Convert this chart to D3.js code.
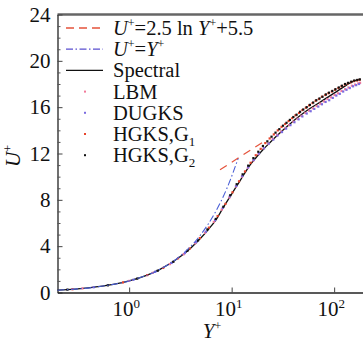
<!DOCTYPE html>
<html>
<head>
<meta charset="utf-8">
<script src="https://cdn.jsdelivr.net/npm/d3@7"></script>
<style>
  body { margin: 0; background: #fff; }
  svg { display: block; font-family: "Liberation Serif", "DejaVu Serif", serif; }
</style>
</head>
<body>
<svg id="chart" width="363" height="343"></svg>
<script>
// ---- data ----
const spectralY = [0.2, 0.4, 0.7, 1.0, 1.5, 2.0, 3.0, 4.0, 5.0, 6.0, 7.0, 8.3, 10, 11.6, 13, 15.1, 17.5, 20.3, 23.7, 27.8, 37, 47, 58.5, 75, 91.5, 110, 134, 155, 176];
const spectralU = [0.2, 0.4, 0.7, 1.0, 1.5, 2.0, 2.95, 3.85, 4.7, 5.5, 6.25, 7.35, 8.5, 9.4, 10.1, 11.0, 11.7, 12.35, 12.95, 13.55, 14.55, 15.3, 15.9, 16.5, 17.0, 17.45, 17.95, 18.25, 18.4];

const logLawY = [7.7, 20.3];
const logLawU = [10.6, 13.0];

const linearY = [0.2, 0.5, 1, 2, 3, 5, 7, 9, 11.6];
const linearU = [0.2, 0.5, 1, 2, 3, 5, 7, 9, 11.6];

const lbmY = [0.35, 1.0, 1.7, 2.5, 3.4, 4.4, 5.5, 6.7, 8.0, 9.5, 11.0, 12.6, 14.4, 16.3, 18.3, 20.5, 22.8, 25.2, 27.8, 30.5, 33.5, 36.5, 40, 44, 48, 52.5, 57, 62, 67.5, 73, 79.5, 86, 93, 101, 109, 118, 128, 138, 149, 160, 172, 179];
const lbmU = [0.35, 1.0, 1.7, 2.45, 3.3, 4.25, 5.15, 6.1, 7.15, 8.2, 9.15, 10.0, 10.75, 11.4, 11.95, 12.45, 12.85, 13.25, 13.6, 13.9, 14.2, 14.45, 14.75, 15.0, 15.25, 15.5, 15.7, 15.9, 16.1, 16.3, 16.5, 16.7, 16.85, 17.05, 17.2, 17.4, 17.55, 17.7, 17.85, 17.95, 18.05, 18.1];

const dugksY = [0.45, 1.1, 1.8, 2.6, 3.5, 4.5, 5.6, 6.9, 8.2, 9.6, 11.1, 12.7, 14.5, 16.4, 18.5, 20.7, 23.0, 25.5, 28.0, 31, 34, 37.5, 41, 45, 49, 54, 59, 64, 70, 76, 82.5, 89.5, 97, 105, 113.5, 122.5, 132, 142, 153, 164, 175];
const dugksU = [0.45, 1.1, 1.8, 2.55, 3.4, 4.35, 5.25, 6.25, 7.3, 8.3, 9.2, 10.05, 10.8, 11.45, 12.0, 12.45, 12.85, 13.2, 13.55, 13.85, 14.15, 14.45, 14.7, 14.95, 15.2, 15.45, 15.65, 15.85, 16.05, 16.25, 16.45, 16.6, 16.8, 17.0, 17.15, 17.35, 17.5, 17.65, 17.8, 17.9, 18.0];

const g1Y = [0.28, 0.87, 1.5, 2.15, 3.0, 3.9, 4.9, 6.0, 7.3, 8.7, 10.2, 11.8, 13.5, 15.3, 17.2, 19.2, 21.3, 23.5, 25.8, 28.2, 30.7, 33.3, 36, 39, 42, 45.5, 49, 53, 57, 61.5, 66, 71, 76, 82, 88, 95, 102, 110, 118, 127, 136, 146, 156, 167, 177];
const g1U = [0.28, 0.87, 1.5, 2.12, 2.95, 3.8, 4.7, 5.6, 6.6, 7.65, 8.65, 9.6, 10.45, 11.2, 11.85, 12.4, 12.9, 13.3, 13.65, 14.0, 14.3, 14.55, 14.8, 15.05, 15.3, 15.5, 15.75, 15.95, 16.15, 16.35, 16.55, 16.7, 16.9, 17.05, 17.2, 17.35, 17.5, 17.65, 17.8, 17.95, 18.05, 18.15, 18.25, 18.3, 18.35];

const g2Y = [0.25, 0.62, 1.2, 1.9, 2.7, 3.7, 4.7, 5.8, 7.0, 8.3, 9.7, 11.2, 12.8, 14.5, 16.3, 18.2, 20.2, 22.3, 24.5, 26.8, 29.2, 31.7, 34.3, 37, 40, 43, 46.5, 50, 54, 58, 62.5, 67, 72, 77, 83, 89, 96, 103, 111, 119, 128, 137, 147, 157, 168, 178];
const g2U = [0.25, 0.62, 1.2, 1.88, 2.65, 3.6, 4.5, 5.45, 6.35, 7.4, 8.4, 9.35, 10.2, 10.95, 11.6, 12.15, 12.65, 13.05, 13.45, 13.8, 14.1, 14.4, 14.65, 14.9, 15.15, 15.35, 15.6, 15.8, 16.0, 16.2, 16.4, 16.6, 16.75, 16.9, 17.1, 17.25, 17.4, 17.55, 17.7, 17.85, 18.0, 18.1, 18.2, 18.3, 18.35, 18.4];

const xTicks = [1, 10, 100];
const xTickExp = ["0", "1", "2"];
const yTicks = [0, 4, 8, 12, 16, 20, 24];

// ---- layout ----
const plotBox = { left: 57.5, right: 365, top: 14.5, bottom: 292.5 };

const svg = d3.select("#chart");

const x = d3.scaleLog().domain([0.2, 200]).range([plotBox.left, plotBox.right]);
const y = d3.scaleLinear().domain([0, 24]).range([plotBox.bottom, plotBox.top]);

const zip = (xs, ys) => xs.map((d, i) => [d, ys[i]]);

const line = d3.line()
    .x(d => x(d[0]))
    .y(d => y(d[1]))
    .curve(d3.curveMonotoneX);

// top frame line (grey)
svg.append("line")
    .attr("x1", plotBox.left).attr("x2", 363)
    .attr("y1", plotBox.top).attr("y2", plotBox.top)
    .attr("stroke", "#666").attr("stroke-width", 2.5);

// y axis, major + minor ticks pointing inward
const yAxisG = svg.append("g")
    .attr("transform", `translate(${plotBox.left},0)`)
    .call(d3.axisLeft(y).tickValues(yTicks).tickSize(-5).tickSizeOuter(0).tickPadding(7));
yAxisG.select(".domain").attr("stroke", "#222").attr("stroke-width", 1.3);
yAxisG.selectAll(".tick line").attr("stroke", "#444");
yAxisG.selectAll(".tick text")
    .attr("font-size", 21)
    .attr("font-family", "Liberation Serif, DejaVu Serif, serif")
    .attr("fill", "#111");

const minorTicks = d3.range(0, 25).filter(v => v % 4 !== 0);
svg.append("g")
    .attr("transform", `translate(${plotBox.left},0)`)
    .call(d3.axisLeft(y).tickValues(minorTicks).tickSize(-3).tickFormat(""))
    .call(g => g.select(".domain").remove())
    .selectAll(".tick line").attr("stroke", "#555");

// x axis
const xAxisG = svg.append("g")
    .attr("transform", `translate(0,${plotBox.bottom})`)
    .call(d3.axisBottom(x).tickValues(xTicks).tickSize(-5).tickSizeOuter(0).tickFormat(""));
xAxisG.select(".domain").attr("stroke", "#222").attr("stroke-width", 1.3);
xAxisG.selectAll(".tick line").attr("stroke", "#444");

xTicks.forEach((t, i) => {
    const txt = svg.append("text")
        .attr("x", x(t) - 3)
        .attr("y", 316)
        .attr("text-anchor", "middle")
        .attr("font-size", 21)
        .attr("fill", "#111");
    txt.append("tspan").text("10");
    txt.append("tspan").attr("dy", -8).attr("font-size", 13).text(xTickExp[i]);
});

// axis titles
const xt = svg.append("text")
    .attr("x", 212).attr("y", 338)
    .attr("text-anchor", "middle")
    .attr("font-size", 21).attr("fill", "#111");
xt.append("tspan").attr("font-style", "italic").text("Y");
xt.append("tspan").attr("dy", -8).attr("font-size", 12).text("+");

const yt = svg.append("text")
    .attr("transform", "translate(20,156) rotate(-90)")
    .attr("text-anchor", "middle")
    .attr("font-size", 21).attr("fill", "#111");
yt.append("tspan").attr("font-style", "italic").text("U");
yt.append("tspan").attr("dy", -8).attr("font-size", 12).text("+");

// ---- curves ----
const plot = svg.append("g");

plot.append("path")
    .datum(zip(spectralY, spectralU))
    .attr("d", line)
    .attr("fill", "none")
    .attr("stroke", "#111")
    .attr("stroke-width", 1.3);

const markerSets = [
    { ys: lbmY, us: lbmU, color: "#f27a9a" },
    { ys: dugksY, us: dugksU, color: "#7b6be0" },
    { ys: g1Y, us: g1U, color: "#e8452c" },
    { ys: g2Y, us: g2U, color: "#111" }
];

markerSets.forEach(s => {
    plot.append("g")
        .selectAll("rect")
        .data(zip(s.ys, s.us))
        .join("rect")
        .attr("x", d => x(d[0]) - 1.1)
        .attr("y", d => y(d[1]) - 1.1)
        .attr("width", 2.2)
        .attr("height", 2.2)
        .attr("fill", s.color);
});

plot.append("path")
    .datum(zip(linearY, linearU))
    .attr("d", line)
    .attr("fill", "none")
    .attr("stroke", "#4a5fd6")
    .attr("stroke-width", 1.1)
    .attr("stroke-dasharray", "7,2.5,1.5,2.5");

plot.append("path")
    .datum(zip(logLawY, logLawU))
    .attr("d", d3.line().x(d => x(d[0])).y(d => y(d[1])))
    .attr("fill", "none")
    .attr("stroke", "#e5533b")
    .attr("stroke-width", 1.2)
    .attr("stroke-dasharray", "8,6");

// ---- legend ----
const legendItems = [
    { kind: "line", color: "#e5533b", dash: "8,5", label: "law" },
    { kind: "line", color: "#5a4fd0", dash: "7,2.5,1.5,2.5", label: "linear" },
    { kind: "line", color: "#111", dash: null, label: "Spectral" },
    { kind: "dot", color: "#f27a9a", label: "LBM" },
    { kind: "dot", color: "#7b6be0", label: "DUGKS" },
    { kind: "dot", color: "#e8452c", label: "HGKS,G", sub: "1" },
    { kind: "dot", color: "#111", label: "HGKS,G", sub: "2" }
];

const legend = svg.append("g");
legendItems.forEach((d, i) => {
    const cy = 28 + i * 21.2;
    if (d.kind === "line") {
        legend.append("line")
            .attr("x1", 66).attr("x2", 103)
            .attr("y1", cy).attr("y2", cy)
            .attr("stroke", d.color)
            .attr("stroke-width", 1.3)
            .attr("stroke-dasharray", d.dash);
    } else {
        legend.append("rect")
            .attr("x", 84).attr("y", cy - 1)
            .attr("width", 2).attr("height", 2)
            .attr("fill", d.color);
    }
    const t = legend.append("text")
        .attr("x", 113).attr("y", cy + 7)
        .attr("font-size", 20.5).attr("fill", "#111");
    if (d.label === "law") {
        t.append("tspan").attr("font-style", "italic").text("U");
        t.append("tspan").attr("dy", -8).attr("font-size", 12).text("+");
        t.append("tspan").attr("dy", 8).text("=2.5 ln ");
        t.append("tspan").attr("font-style", "italic").text("Y");
        t.append("tspan").attr("dy", -8).attr("font-size", 12).text("+");
        t.append("tspan").attr("dy", 8).text("+5.5");
    } else if (d.label === "linear") {
        t.append("tspan").attr("font-style", "italic").text("U");
        t.append("tspan").attr("dy", -8).attr("font-size", 12).text("+");
        t.append("tspan").attr("dy", 8).text("=");
        t.append("tspan").attr("font-style", "italic").text("Y");
        t.append("tspan").attr("dy", -8).attr("font-size", 12).text("+");
    } else {
        t.append("tspan").text(d.label);
        if (d.sub) t.append("tspan").attr("dy", 5).attr("font-size", 13).text(d.sub);
    }
});
</script>
</body>
</html>
